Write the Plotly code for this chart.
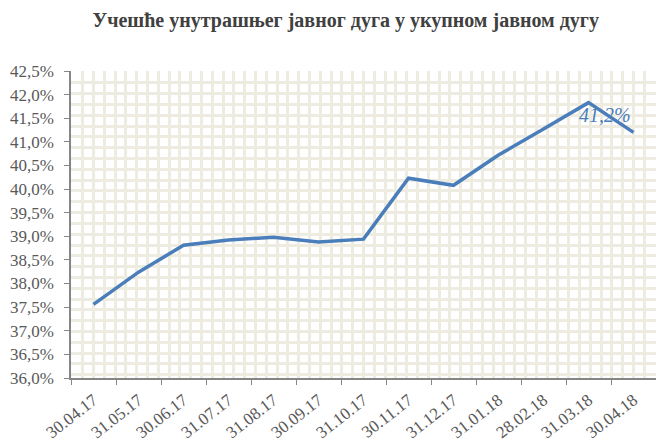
import plotly.graph_objects as go

dates = ["30.04.17", "31.05.17", "30.06.17", "31.07.17", "31.08.17", "30.09.17",
         "31.10.17", "30.11.17", "31.12.17", "31.01.18", "28.02.18", "31.03.18", "30.04.18"]
share = [37.56, 38.24, 38.81, 38.92, 38.98, 38.88, 38.94, 40.23, 40.08, 40.72, 41.27, 41.83, 41.20]
last_label = "41,2%"
title = "Учешће унутрашњег јавног дуга у укупном јавном дугу"

line_color = "#4A7EBB"
grid_color = "#EEEBE0"
text_color = "#595959"
title_color = "#404040"
serif = "Liberation Serif"

fig = go.Figure()
# invisible helper trace on the linear axis that carries the pattern grid
fig.add_trace(go.Scatter(x=[None], y=[None], xaxis="x", yaxis="y",
                         showlegend=False, hoverinfo="skip"))
fig.add_trace(go.Scatter(x=dates, y=share, mode="lines", xaxis="x2", yaxis="y",
                         line=dict(color=line_color, width=3.5), showlegend=False))

fig.add_annotation(x=dates[-1], y=share[-1], xref="x2", yref="y",
                   text="<i>" + last_label + "</i>", showarrow=False,
                   xshift=-29, yshift=17,
                   font=dict(family=serif, size=20, color=line_color))

fig.update_layout(
    template="none",
    width=656, height=441,
    margin=dict(l=71, r=0, t=71, b=63),
    paper_bgcolor="white", plot_bgcolor="white",
    separators=",.",
    font=dict(family=serif, size=17, color=text_color),
    title=dict(text="<b>" + title + "</b>", x=0.527, xanchor="center",
               y=1 - 20 / 441, yanchor="middle",
               font=dict(family=serif, size=20, color=title_color)),
    xaxis=dict(type="linear", range=[-0.5, 12.5], showticklabels=False, ticks="",
               showline=False, zeroline=False, showgrid=True,
               tick0=-0.5 + 0.02, dtick=0.24, gridcolor=grid_color, gridwidth=3),
    xaxis2=dict(type="category", overlaying="x", anchor="y", side="bottom",
                range=[-0.5, 12.5], tickson="boundaries", ticks="outside", ticklen=5,
                tickcolor="#868686", showline=True, linecolor="#868686", linewidth=1.5,
                showgrid=False, tickangle=-38, ticklabelstandoff=4,
                tickfont=dict(family=serif, size=17, color=text_color)),
    yaxis=dict(range=[36, 42.5], dtick=0.5, tick0=36, tickformat=".1f", ticksuffix="%",
               ticks="outside", ticklen=5, tickcolor="#868686",
               showline=True, linecolor="#868686", linewidth=1.5,
               showgrid=False, zeroline=False, ticklabelstandoff=7,
               minor=dict(tick0=42.48, dtick=0.229, showgrid=True,
                          gridcolor=grid_color, gridwidth=3, ticks=""),
               tickfont=dict(family=serif, size=17, color=text_color)),
)

fig.write_html("out.html", config={"displayModeBar": False},
               post_script="document.body.style.margin='0';document.body.style.padding='0';")
